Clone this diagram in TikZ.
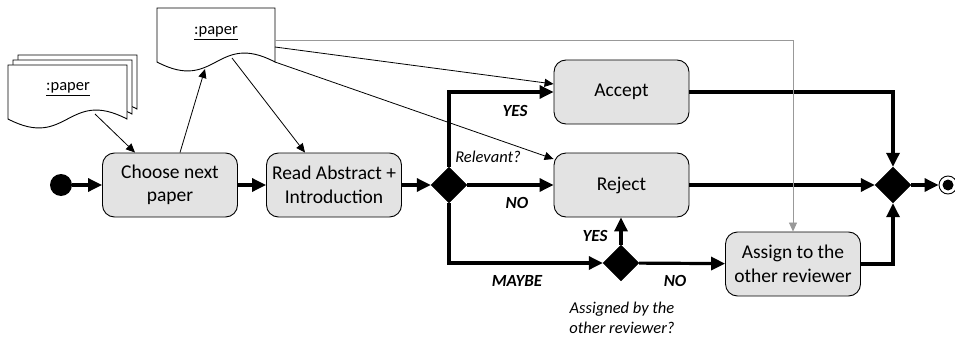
\documentclass[tikz,border=0pt]{standalone}
\usepackage{fontspec}
\setmainfont{Carlito}
\usetikzlibrary{arrows.meta,shapes.geometric}

\tikzset{
  action/.style={draw, line width=0.9pt, rounded corners=12pt, fill=black!11,
    minimum width=135pt, minimum height=64pt, align=center, inner sep=2pt,
    font=\fontsize{19.5}{23.5}\selectfont},
  decision/.style={diamond, fill=black, draw=black, inner sep=0pt,
    minimum width=36pt, minimum height=36pt},
  flow/.style={line width=3.2pt, -{Triangle[length=14pt,width=13pt]}},
  objflow/.style={line width=0.8pt, -{Triangle[length=9pt,width=8pt]}},
  guard/.style={font=\fontsize{17}{20}\selectfont\bfseries\itshape},
  note/.style={font=\fontsize{16.5}{20}\selectfont\itshape, align=center},
  docsheet/.style={draw, line width=0.9pt, fill=white},
  paper/.pic={
    \path[docsheet] (0,0) -- (#1,0) -- (#1,54)
      .. controls (0.5*#1,23) and (0.5*#1,85) .. (0,54) -- cycle;
  }
}

\begin{document}
\begin{tikzpicture}[x=1pt,y=-1pt]
\useasboundingbox (0,0) rectangle (955,337);

% stacked input documents
\pic at (18,55) {paper=119};
\pic at (13,60) {paper=119};
\pic at (8,65) {paper=119};
\node[font=\fontsize{16.5}{19}\selectfont] (stacktxt) at (68,89) {\underline{:paper}};
\coordinate (stackout) at (95,114);

% single document
\pic at (157,8) {paper=118};
\node[font=\fontsize{16.5}{19}\selectfont] (doctxt) at (216,33) {\underline{:paper}};
\coordinate (docin) at (205,69);
\coordinate (docread) at (232,58);
\coordinate (docgray) at (275,40);
\coordinate (docacc) at (275,47);
\coordinate (docrej) at (275,62);

% control nodes
\node[circle, fill=black, minimum size=22pt, inner sep=0pt] (start) at (61,185) {};
\node[action] (choose) at (170,185) {Choose next\\paper};
\node[action] (read) at (334,185) {Read Abstract +\\Introduction};
\node[decision] (d1) at (449,185) {};
\node[action] (accept) at (621.5,92) {Accept};
\node[action] (reject) at (621.5,185) {Reject};
\node[decision] (d2) at (621,263) {};
\node[action] (assign) at (793,264) {Assign to the\\other reviewer};
\node[decision] (d3) at (893,185) {};
\node[circle, draw, line width=0.9pt, fill=white, minimum size=18pt, inner sep=0pt] (end) at (948,185) {};
\node[circle, fill=black, minimum size=11pt, inner sep=0pt] (endin) at (end.center) {};

% control flow
\draw[flow] (start) -- (choose);
\draw[flow] (choose) -- (read);
\draw[flow] (read) -- (d1);
\draw[flow] (d1.north) |- (accept.west);
\draw[flow] (d1) -- (reject);
\draw[flow] (d1.south) |- (d2.west);
\draw[flow] (d2.north) -- (d2.north |- reject.south);
\draw[flow] (d2) -- (assign);
\draw[flow] (accept.east) -| (d3.north);
\draw[flow] (reject) -- (d3);
\draw[flow] (assign.east) -| (d3.south);
\draw[flow] (d3) -- (end);

% object flow
\draw[objflow] (stackout) -- (choose.north -| 135,0);
\draw[objflow] (choose.north -| 180,0) -- (docin);
\draw[objflow] (docread) -- (read.north -| 305,0);
\draw[objflow] (docacc) -- (accept.west |- 0,84);
\draw[objflow] (docrej) -- (reject.west |- 0,159);
\draw[objflow, draw=black!40] (docgray) -| (assign.north);

% guards and notes
\node[guard] (gyes) at (515,111) {YES};
\node[note] (grel) at (488,157) {Relevant?};
\node[guard] (gno) at (517,203) {NO};
\node[guard] (gmaybe) at (517,281) {MAYBE};
\node[guard] (gno2) at (675,281) {NO};
\node[guard] (gyes2) at (595,236) {YES};
\node[note] (gasg) at (622,318) {Assigned by the\\other reviewer?};
\end{tikzpicture}
\end{document}
